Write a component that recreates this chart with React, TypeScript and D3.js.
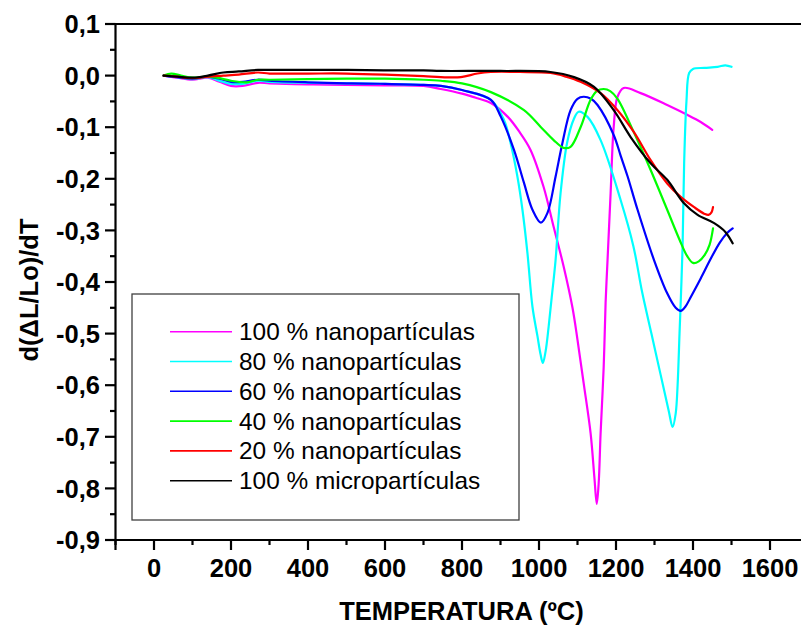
import React from "react";
import * as d3 from "d3";

type P = [number, number];

const seriesNames = [
  "100 % nanopartículas",
  "80 % nanopartículas",
  "60 % nanopartículas",
  "40 % nanopartículas",
  "20 % nanopartículas",
  "100 % micropartículas",
];
const seriesColors = ["#FF00FF", "#00FFFF", "#0000FF", "#00FF00", "#FF0000", "#000000"];

const nano100: P[] = [[25,0],[60,-0.004],[100,-0.008],[140,-0.004],[170,-0.012],[200,-0.02],[230,-0.02],[270,-0.014],[300,-0.015],[400,-0.017],[500,-0.018],[600,-0.019],[700,-0.02],[745,-0.026],[800,-0.035],[840,-0.044],[875,-0.053],[919,-0.08],[950,-0.11],[978,-0.144],[1012,-0.216],[1038,-0.293],[1064,-0.37],[1087,-0.45],[1100,-0.512],[1116,-0.596],[1134,-0.693],[1144,-0.78],[1150,-0.83],[1155,-0.79],[1160,-0.693],[1168,-0.565],[1173,-0.44],[1178,-0.358],[1186,-0.228],[1194,-0.1],[1204,-0.041],[1220,-0.024],[1264,-0.034],[1333,-0.057],[1385,-0.076],[1420,-0.09],[1450,-0.105]];
const nano80: P[] = [[25,0],[60,-0.003],[100,-0.007],[140,-0.003],[170,-0.01],[200,-0.016],[230,-0.016],[270,-0.01],[300,-0.012],[400,-0.014],[500,-0.015],[600,-0.016],[700,-0.018],[745,-0.02],[800,-0.028],[875,-0.047],[909,-0.086],[926,-0.13],[944,-0.196],[957,-0.26],[970,-0.344],[983,-0.448],[996,-0.505],[1004,-0.54],[1010,-0.557],[1017,-0.535],[1025,-0.487],[1033,-0.43],[1043,-0.358],[1056,-0.228],[1073,-0.13],[1090,-0.085],[1103,-0.07],[1126,-0.08],[1160,-0.125],[1212,-0.241],[1245,-0.33],[1268,-0.42],[1292,-0.5],[1316,-0.58],[1337,-0.65],[1347,-0.681],[1355,-0.655],[1360,-0.6],[1365,-0.5],[1369,-0.42],[1373,-0.33],[1377,-0.17],[1383,-0.05],[1390,0.005],[1400,0.013],[1430,0.015],[1464,0.017],[1484,0.02],[1500,0.017]];
const nano60: P[] = [[25,0],[60,-0.003],[100,-0.006],[140,-0.002],[170,-0.006],[200,-0.012],[230,-0.012],[270,-0.008],[300,-0.01],[400,-0.013],[500,-0.015],[600,-0.016],[700,-0.018],[745,-0.02],[800,-0.028],[875,-0.047],[901,-0.08],[935,-0.144],[961,-0.208],[983,-0.26],[1005,-0.285],[1022,-0.266],[1043,-0.196],[1061,-0.13],[1082,-0.067],[1100,-0.045],[1116,-0.041],[1135,-0.045],[1152,-0.057],[1194,-0.115],[1212,-0.155],[1230,-0.195],[1256,-0.26],[1299,-0.358],[1333,-0.422],[1355,-0.45],[1368,-0.456],[1380,-0.448],[1395,-0.428],[1420,-0.393],[1446,-0.355],[1470,-0.323],[1490,-0.304],[1503,-0.296]];
const nano40: P[] = [[25,0],[45,0.004],[70,0],[100,-0.004],[140,-0.002],[170,-0.005],[200,-0.01],[240,-0.013],[270,-0.008],[300,-0.008],[400,-0.007],[500,-0.006],[600,-0.006],[700,-0.008],[745,-0.01],[800,-0.015],[875,-0.032],[961,-0.067],[1005,-0.1],[1038,-0.125],[1064,-0.14],[1082,-0.138],[1108,-0.1],[1134,-0.047],[1150,-0.03],[1168,-0.026],[1185,-0.03],[1204,-0.045],[1247,-0.111],[1290,-0.183],[1333,-0.26],[1365,-0.318],[1385,-0.35],[1400,-0.363],[1415,-0.36],[1430,-0.348],[1443,-0.328],[1452,-0.296]];
const nano20: P[] = [[25,0],[60,-0.002],[100,-0.005],[140,-0.002],[180,0],[220,0.002],[270,0.006],[300,0.004],[400,0.004],[500,0.004],[600,0.002],[700,-0.001],[745,-0.003],[797,-0.003],[840,0.004],[875,0.007],[950,0.007],[1030,0.005],[1070,-0.002],[1108,-0.012],[1160,-0.034],[1204,-0.067],[1247,-0.11],[1290,-0.164],[1333,-0.209],[1368,-0.235],[1403,-0.255],[1430,-0.268],[1440,-0.27],[1448,-0.265],[1452,-0.255]];
const micro100: P[] = [[25,0],[60,-0.002],[100,-0.004],[140,0],[180,0.006],[220,0.008],[270,0.011],[300,0.011],[400,0.011],[500,0.011],[600,0.01],[700,0.01],[745,0.009],[900,0.009],[1030,0.007],[1091,-0.003],[1143,-0.022],[1194,-0.067],[1238,-0.119],[1290,-0.17],[1333,-0.202],[1376,-0.247],[1412,-0.27],[1455,-0.286],[1484,-0.303],[1503,-0.325]];

const seriesData: P[][] = [nano100, nano80, nano60, nano40, nano20, micro100];

const xTicks = [0, 200, 400, 600, 800, 1000, 1200, 1400, 1600];
const xMinor = [-100, 100, 300, 500, 700, 900, 1100, 1300, 1500];
const yTicks = [0.1, 0, -0.1, -0.2, -0.3, -0.4, -0.5, -0.6, -0.7, -0.8, -0.9];
const yMinor = [0.05, -0.05, -0.15, -0.25, -0.35, -0.45, -0.55, -0.65, -0.75, -0.85];

const FONT = "'Liberation Sans', Arial, sans-serif";

export default function App() {
  const x = d3.scaleLinear().domain([-100, 1700]).range([115.5, 808.5]);
  const y = d3.scaleLinear().domain([-0.9, 0.1]).range([540, 24]);
  const line = d3
    .line<P>()
    .x((d) => x(d[0]))
    .y((d) => y(d[1]))
    .curve(d3.curveCatmullRom.alpha(0.5));
  const fmtY = (v: number) => (Math.abs(v) < 1e-9 ? "0,0" : d3.format(".1f")(v).replace(".", ",").replace("−", "-"));

  const legendY0 = 331.7;
  const legendDy = 29.8;

  return (
    <svg width={801} height={628} style={{ position: "absolute", left: 0, top: 0, background: "#fff" }}>
      <rect x={0} y={0} width={801} height={628} fill="#fff" />
      <g fill="none" strokeWidth={2.2} strokeLinejoin="round" strokeLinecap="round">
        {seriesData.map((d, i) => (
          <path key={i} d={line(d) || ""} stroke={seriesColors[i]} />
        ))}
      </g>
      <rect x={132} y={294} width={387} height={226} fill="none" stroke="#404040" strokeWidth={1.3} />
      {seriesNames.map((n, i) => (
        <g key={n}>
          <line x1={170} x2={232} y1={legendY0 + i * legendDy} y2={legendY0 + i * legendDy} stroke={seriesColors[i]} strokeWidth={1.6} />
          <text x={239} y={legendY0 + i * legendDy} dy="0.35em" fontFamily={FONT} fontSize={24.4} fill="#000">
            {n}
          </text>
        </g>
      ))}
      <g stroke="#000" strokeWidth={2.2}>
        <line x1={105} x2={801} y1={24} y2={24} />
        <line x1={115.5} x2={115.5} y1={23} y2={550} />
        <line x1={105} x2={801} y1={540} y2={540} />
        {yTicks.map((t) => (
          <line key={"yt" + t} x1={105} x2={115.5} y1={y(t)} y2={y(t)} />
        ))}
        {yMinor.map((t) => (
          <line key={"ym" + t} x1={110} x2={115.5} y1={y(t)} y2={y(t)} />
        ))}
        {xTicks.map((t) => (
          <line key={"xt" + t} x1={x(t)} x2={x(t)} y1={540} y2={550} />
        ))}
        {xMinor.map((t) => (
          <line key={"xm" + t} x1={x(t)} x2={x(t)} y1={540} y2={545} />
        ))}
      </g>
      <g fontFamily={FONT} fontWeight="bold" fontSize={25.5} fill="#000">
        {yTicks.map((t) => (
          <text key={"yl" + t} x={100} y={y(t)} dy="0.36em" textAnchor="end">
            {fmtY(t)}
          </text>
        ))}
        {xTicks.map((t) => (
          <text key={"xl" + t} x={x(t)} y={577} textAnchor="middle">
            {t}
          </text>
        ))}
        <text x={461.5} y={620} textAnchor="middle">
          TEMPERATURA (ºC)
        </text>
        <text transform="translate(38,290) rotate(-90)" textAnchor="middle">
          d(ΔL/Lo)/dT
        </text>
      </g>
    </svg>
  );
}
